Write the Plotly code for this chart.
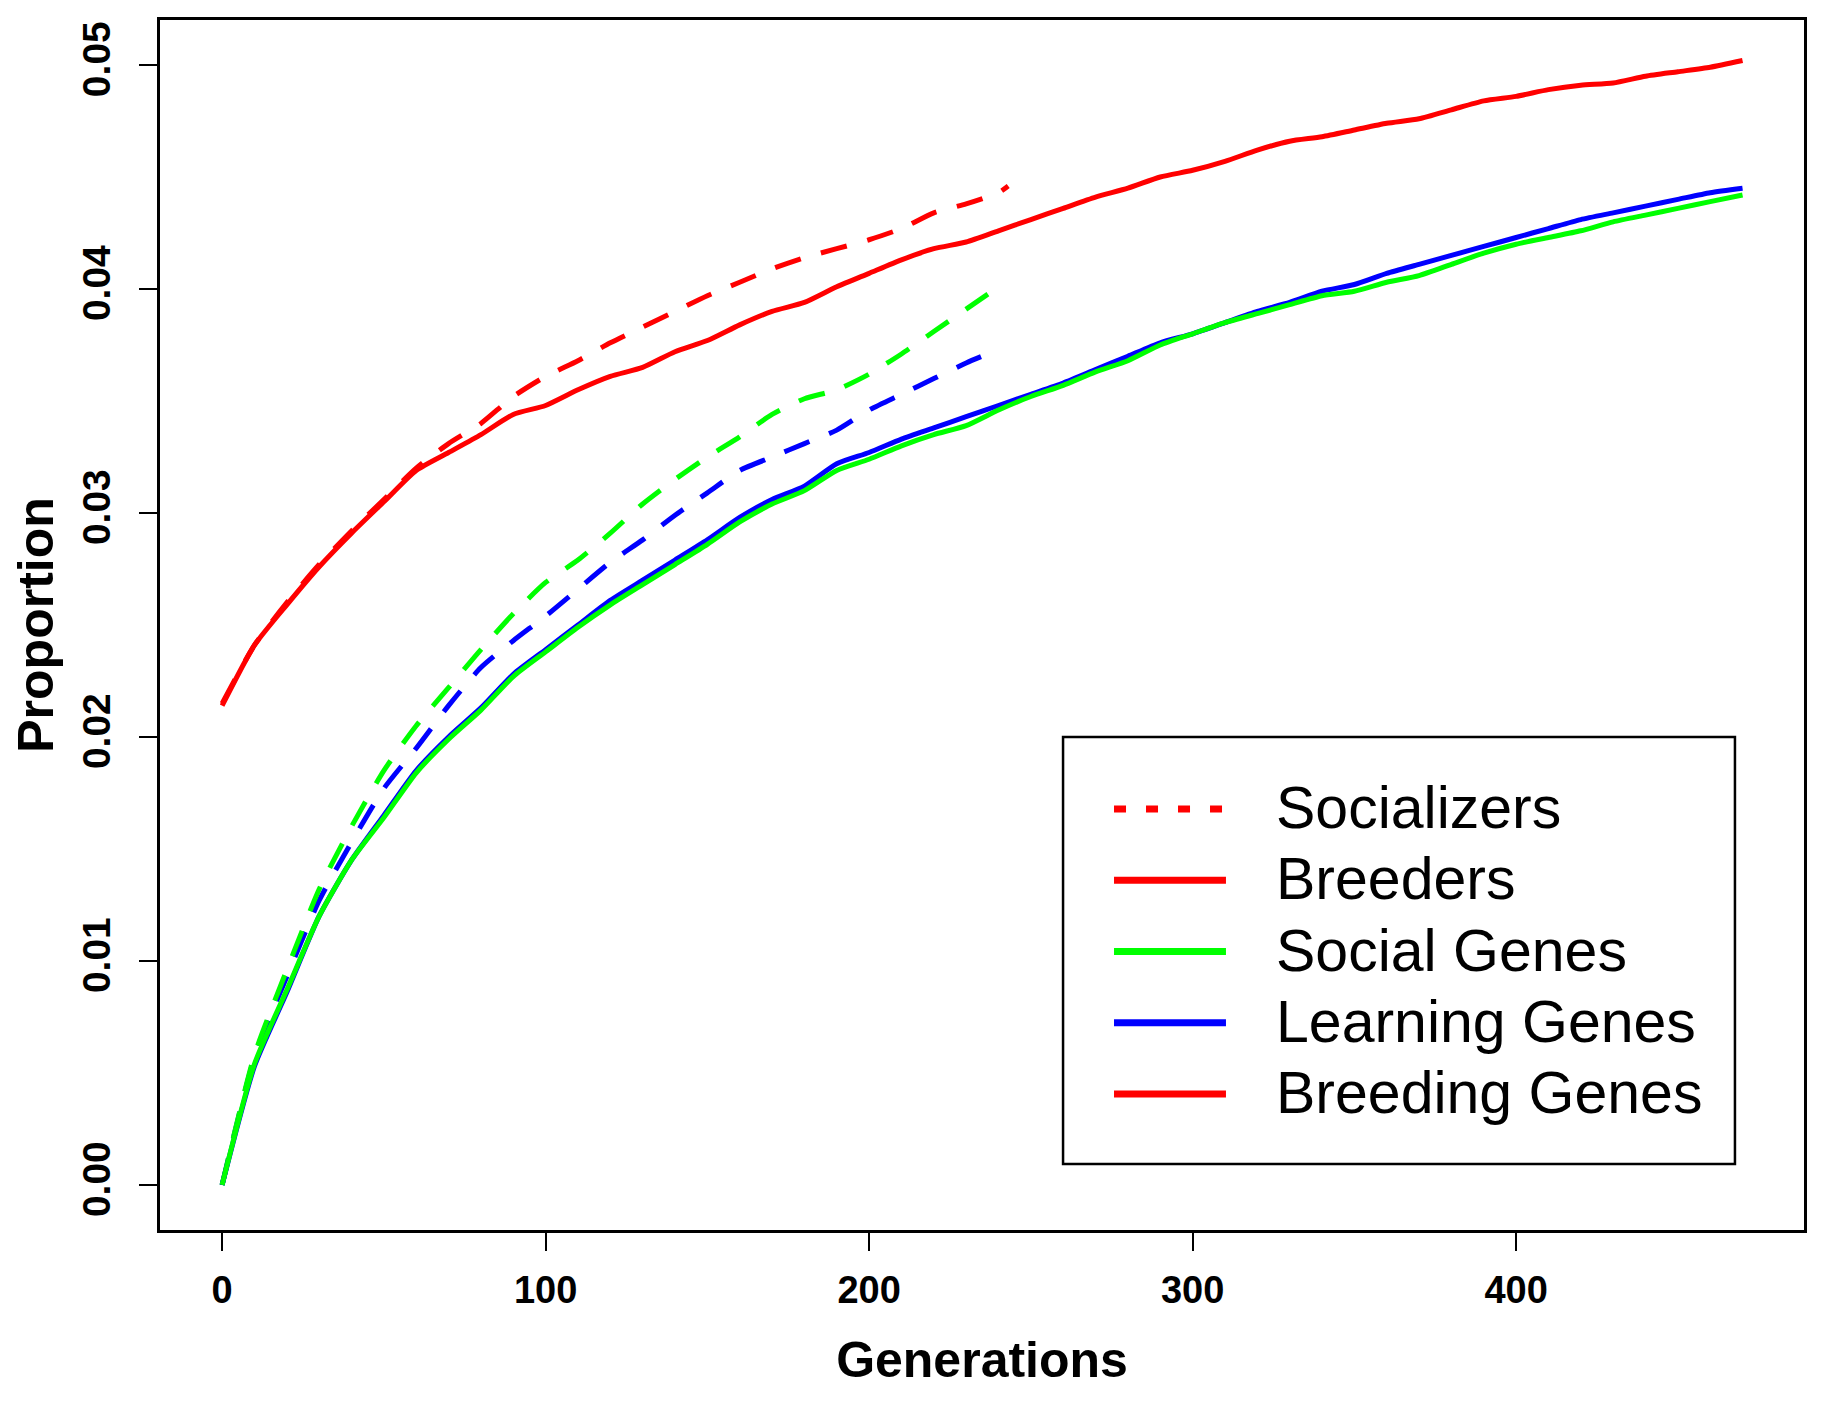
import plotly.graph_objects as go

# ---------------- data ----------------
gen_long = [0, 10, 20, 30, 40, 50, 60, 70, 80, 90, 100, 110, 120, 130, 140, 150, 160, 170, 180, 190,
            200, 210, 220, 230, 240, 250, 260, 270, 280, 290, 300, 310, 320, 330, 340, 350, 360, 370,
            380, 390, 400, 410, 420, 430, 440, 450, 460, 470]
gen_short = [0, 10, 20, 30, 40, 50, 60, 70, 80, 90, 100, 110, 120, 130, 140, 150, 160, 170, 180, 190,
             200, 210, 220, 230, 240, 243]

breeders = [0.0214, 0.0241, 0.0259, 0.0276, 0.0291, 0.0305, 0.0319, 0.0327, 0.0335, 0.0344, 0.0348,
            0.0355, 0.0361, 0.0365, 0.0372, 0.0377, 0.0384, 0.0390, 0.0394, 0.0401, 0.0407, 0.0413,
            0.0418, 0.0421, 0.0426, 0.0431, 0.0436, 0.0441, 0.0445, 0.0450, 0.0453, 0.0457, 0.0462,
            0.0466, 0.0468, 0.0471, 0.0474, 0.0476, 0.0480, 0.0484, 0.0486, 0.0489, 0.0491, 0.0492,
            0.0495, 0.0497, 0.0499, 0.0502]
social_genes = [0.0000, 0.0054, 0.0087, 0.0120, 0.0145, 0.0164, 0.0184, 0.0199, 0.0212, 0.0227, 0.0238,
                0.0249, 0.0259, 0.0268, 0.0277, 0.0286, 0.0296, 0.0304, 0.0310, 0.0319, 0.0324, 0.0330,
                0.0335, 0.0339, 0.0346, 0.0352, 0.0357, 0.0363, 0.0368, 0.0375, 0.0380, 0.0385, 0.0389,
                0.0393, 0.0397, 0.0399, 0.0403, 0.0406, 0.0411, 0.0416, 0.0420, 0.0423, 0.0426, 0.0430,
                0.0433, 0.0436, 0.0439, 0.0442]
learning_genes = [0.0000, 0.0053, 0.0086, 0.0120, 0.0145, 0.0165, 0.0185, 0.0200, 0.0213, 0.0228, 0.0239,
                  0.0250, 0.0261, 0.0270, 0.0279, 0.0288, 0.0298, 0.0306, 0.0312, 0.0322, 0.0327, 0.0333,
                  0.0338, 0.0343, 0.0348, 0.0353, 0.0358, 0.0364, 0.0370, 0.0376, 0.0380, 0.0385, 0.0390,
                  0.0394, 0.0399, 0.0402, 0.0407, 0.0411, 0.0415, 0.0419, 0.0423, 0.0427, 0.0431, 0.0434,
                  0.0437, 0.0440, 0.0443, 0.0445]

socializers = [0.0215, 0.0241, 0.0260, 0.0277, 0.0292, 0.0306, 0.0320, 0.0331, 0.0340, 0.0352, 0.0361,
               0.0368, 0.0376, 0.0383, 0.0390, 0.0397, 0.0403, 0.0409, 0.0414, 0.0418, 0.0422, 0.0427,
               0.0434, 0.0438, 0.0443, 0.0446]
social_genes_dash = [0.0000, 0.0058, 0.0096, 0.0132, 0.0160, 0.0185, 0.0205, 0.0222, 0.0239, 0.0255, 0.0269,
                     0.0279, 0.0291, 0.0304, 0.0315, 0.0325, 0.0334, 0.0344, 0.0351, 0.0355, 0.0362, 0.0371,
                     0.0381, 0.0391, 0.0401]
learning_genes_dash = [0.0000, 0.0057, 0.0093, 0.0127, 0.0153, 0.0177, 0.0195, 0.0214, 0.0231, 0.0243, 0.0254,
                       0.0266, 0.0278, 0.0288, 0.0299, 0.0309, 0.0319, 0.0325, 0.0331, 0.0337, 0.0346, 0.0353,
                       0.0360, 0.0367, 0.0373]

legend_labels = ["Socializers", "Breeders", "Social Genes", "Learning Genes", "Breeding Genes"]
legend_colors = ["#FF0000", "#FF0000", "#00FF00", "#0000FF", "#FF0000"]
legend_dashes = ["12px,20px", "solid", "solid", "solid", "solid"]

x_ticks = [0, 100, 200, 300, 400]
y_ticks = [0.00, 0.01, 0.02, 0.03, 0.04, 0.05]
y_tick_text = ["0.00", "0.01", "0.02", "0.03", "0.04", "0.05"]

RED, GREEN, BLUE = "#FF0000", "#00FF00", "#0000FF"
DASH = "27px,21px"
LW = 5
FONT = "Liberation Sans, Arial, sans-serif"

fig = go.Figure()
def add(x, y, color, dash, name):
    fig.add_trace(go.Scatter(x=x, y=y, mode="lines", name=name,
                             line=dict(color=color, width=LW, dash=dash, shape="spline", smoothing=0.6)))

add(gen_short, socializers, RED, DASH, "Socializers")
add(gen_short[:len(learning_genes_dash)], learning_genes_dash, BLUE, DASH, "Learning Genes (dashed)")
add(gen_short[:len(social_genes_dash)], social_genes_dash, GREEN, DASH, "Social Genes (dashed)")
add(gen_long, breeders, RED, "solid", "Breeders")
add(gen_long, learning_genes, BLUE, "solid", "Learning Genes")
add(gen_long, social_genes, GREEN, "solid", "Social Genes")

# ---------------- custom legend (R style box) ----------------
box_x0, box_x1, box_y0, box_y1 = 0.5493, 0.958, 0.0545, 0.4074
sample_x0, sample_x1, text_x = 0.5803, 0.6484, 0.6775
row_top, row_step = 0.3479, 0.05888
shapes = [dict(type="rect", xref="paper", yref="paper", x0=box_x0, x1=box_x1, y0=box_y0, y1=box_y1,
               line=dict(color="black", width=2.5), fillcolor="white", layer="above")]
annotations = []
for i, (lab, col, dsh) in enumerate(zip(legend_labels, legend_colors, legend_dashes)):
    yy = row_top - i * row_step
    shapes.append(dict(type="line", xref="paper", yref="paper", x0=sample_x0, x1=sample_x1, y0=yy, y1=yy,
                       line=dict(color=col, width=7, dash=dsh), layer="above"))
    annotations.append(dict(xref="paper", yref="paper", x=text_x, y=yy, text=lab, showarrow=False,
                            xanchor="left", yanchor="middle", yshift=1,
                            font=dict(family=FONT, size=59, color="black")))

# the page body has an 8px margin: the figure is sized and offset to compensate
fig.update_layout(
    width=1825, height=1395,
    margin=dict(l=152, r=29, t=12, b=173, autoexpand=False),
    paper_bgcolor="white", plot_bgcolor="white",
    showlegend=False,
    shapes=shapes, annotations=annotations,
    font=dict(family=FONT, color="black"),
)
fig.update_xaxes(
    range=[-19.2, 489.0], tickvals=x_ticks, ticks="outside", ticklen=18, tickwidth=1.5, tickcolor="black",
    showline=True, linewidth=3, linecolor="black", mirror=True, showgrid=False, zeroline=False,
    tickfont=dict(family=FONT, size=38, color="black", weight="bold"),
    ticklabelstandoff=6,
    title=dict(text="<b>Generations</b>", standoff=33,
               font=dict(family=FONT, size=50, color="black")),
)
fig.update_yaxes(
    range=[-0.00201, 0.05201], tickvals=y_ticks, ticktext=y_tick_text, tickangle=-90,
    ticks="outside", ticklen=18, tickwidth=1.5, tickcolor="black",
    showline=True, linewidth=3, linecolor="black", mirror=True, showgrid=False, zeroline=False,
    tickfont=dict(family=FONT, size=39, color="black", weight="bold"),
    ticklabelstandoff=13,
    title=dict(text="<b>Proportion</b>", standoff=25,
               font=dict(family=FONT, size=50, color="black")),
)

fig.write_html("out.html")
